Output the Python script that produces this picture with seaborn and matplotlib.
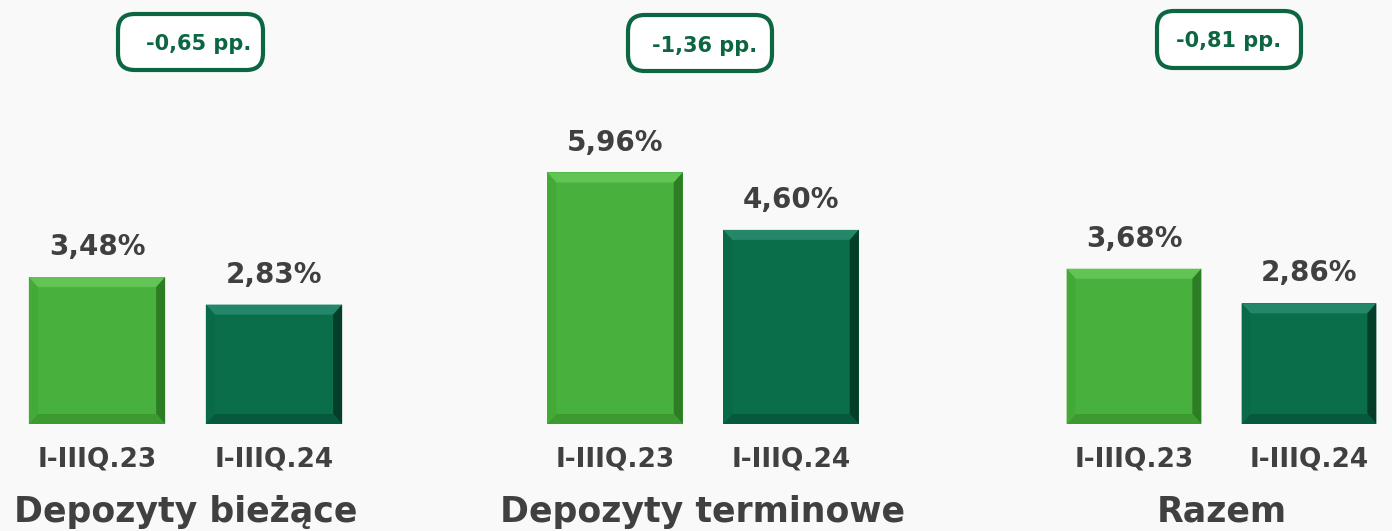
import matplotlib
matplotlib.use("Agg")
import matplotlib.pyplot as plt
from matplotlib.patches import Polygon, FancyBboxPatch
import seaborn as sns
import pandas as pd

# ---- data ----
groups = ["Depozyty bieżące", "Depozyty terminowe", "Razem"]
periods = ["I-IIIQ.23", "I-IIIQ.24"]
values_23 = [3.48, 5.96, 3.68]
values_24 = [2.83, 4.60, 2.86]
changes = ["-0,65 pp.", "-1,36 pp.", "-0,81 pp."]

sns.set_theme(style="white")
plt.rcParams["font.family"] = ["DejaVu Sans"]

W, H = 1392, 531
fig = plt.figure(figsize=(W / 100, H / 100), dpi=100)
bg = "#f9f9f9"
fig.patch.set_facecolor(bg)

light = "#48b03c"
dark = "#0a6e4b"
bevel_cols = {
    light: dict(top="#62c454", right="#2c7d24", bottom="#3c9a31", left="#43aa37"),
    dark: dict(top="#25876a", right="#043d28", bottom="#06593b", left="#096a47"),
}
txt_col = "#404040"
box_col = "#0b6641"

# layout (pixels)
bar_centers = [(97, 274), (615, 791), (1134, 1309)]
baseline_px = 424
px_per_unit = 42.2
box_rects = [(118, 14, 145, 56), (628, 15, 144, 56), (1157, 11, 144, 57)]
box_text = [(199, 44), (705, 46), (1229, 41)]

for i, g in enumerate(groups):
    c0, c1 = bar_centers[i]
    u = c1 - c0
    left_px = c0 - 0.5 * u
    right_px = min(c0 + 1.5 * u, W)
    ax = fig.add_axes([left_px / W, (H - baseline_px) / H,
                       (right_px - left_px) / W, baseline_px / H])
    ax.set_facecolor("none")
    df = pd.DataFrame({"period": periods, "value": [values_23[i], values_24[i]]})
    sns.barplot(data=df, x="period", y="value", hue="period",
                palette=[light, dark], width=0.77, ax=ax, legend=False,
                saturation=1, linewidth=0)
    ax.set_xlim(-0.5, (right_px - c0) / u)
    ax.set_ylim(0, baseline_px / px_per_unit)
    for s in ax.spines.values():
        s.set_visible(False)
    ax.set_yticks([])
    ax.set_xlabel("")
    ax.set_ylabel("")
    ax.tick_params(axis="x", length=0, pad=16, labelsize=19, labelcolor=txt_col)
    for lab in ax.get_xticklabels():
        lab.set_fontweight("bold")

    bx = 9 / u
    by = 10 / px_per_unit
    cols = [light, dark]
    for j, p in enumerate(ax.patches[:2]):
        x, y, w, h = p.get_x(), p.get_y(), p.get_width(), p.get_height()
        bc = bevel_cols[cols[j]]
        polys = {
            "top": [(x, y + h), (x + w, y + h), (x + w - bx, y + h - by), (x + bx, y + h - by)],
            "right": [(x + w, y + h), (x + w, y), (x + w - bx, y + by), (x + w - bx, y + h - by)],
            "bottom": [(x, y), (x + w, y), (x + w - bx, y + by), (x + bx, y + by)],
            "left": [(x, y), (x, y + h), (x + bx, y + h - by), (x + bx, y + by)],
        }
        for k, pts in polys.items():
            ax.add_patch(Polygon(pts, closed=True, facecolor=bc[k], edgecolor="none", zorder=3))
        ax.annotate(f"{h:.2f}%".replace(".", ","), (x + w / 2, y + h),
                    xytext=(0, 21.5), textcoords="offset points",
                    ha="center", va="center", fontsize=20, fontweight="bold",
                    color=txt_col, annotation_clip=False)

    # group title
    fig.text(((c0 + c1) / 2) / W, 9 / H, g, ha="center", va="baseline",
             fontsize=25, fontweight="bold", color=txt_col)

    # change box
    bxp, byp, bw, bh = box_rects[i]
    fig.patches.append(FancyBboxPatch(((bxp) / W, (H - byp - bh) / H), bw / W, bh / H,
                                      boxstyle="round,pad=0,rounding_size=0.012",
                                      transform=fig.transFigure, facecolor="white",
                                      edgecolor=box_col, linewidth=3, mutation_aspect=W / H))
    tx, ty = box_text[i]
    fig.text(tx / W, (H - ty) / H, changes[i], ha="center", va="center",
             fontsize=15, fontweight="bold", color=box_col)

fig.savefig("out.png", dpi=100, facecolor=bg)
